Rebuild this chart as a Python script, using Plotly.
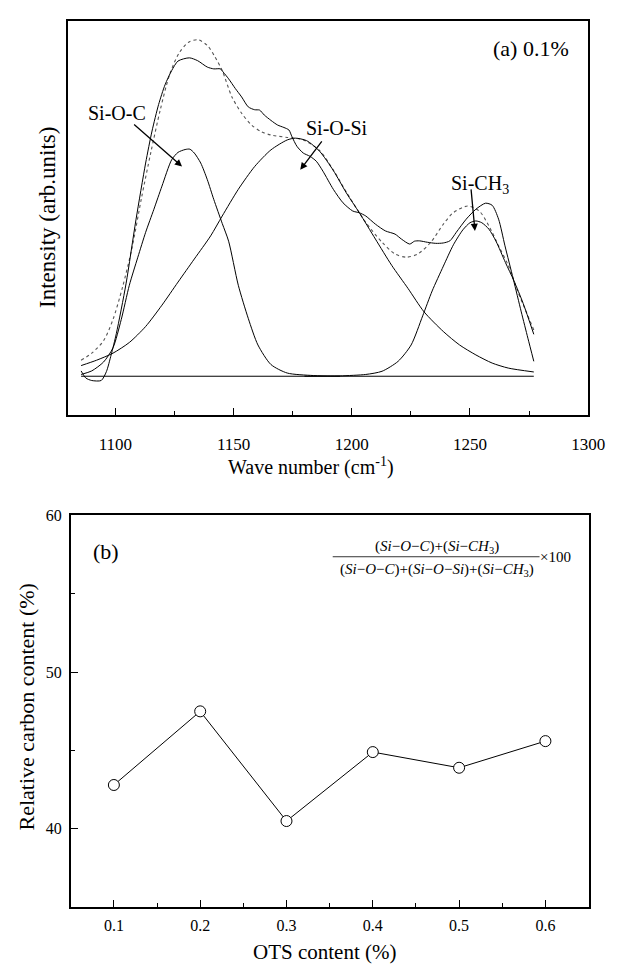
import plotly.graph_objects as go

# ---------------- data: panel (a) FTIR deconvolution ----------------
exp_wn = [1085.5, 1087.5, 1090, 1094, 1096.2, 1098.2, 1100.4, 1104.5, 1108.7, 1112.8,
          1115.5, 1118.3, 1121, 1123.8, 1126.5, 1131.3, 1134.8, 1138.9, 1141.6, 1144.4,
          1145.6, 1147.9, 1150.7, 1153.4, 1156.2, 1158.9, 1161, 1163, 1165.8, 1168.6,
          1171.3, 1173.4, 1174.7, 1176.8, 1179.5, 1182.3, 1185, 1187.8, 1192.2, 1196.3,
          1200.4, 1203.2, 1205.9, 1210, 1214.2, 1218.3, 1221, 1224.5, 1226.5, 1228.6,
          1232, 1235.5, 1238.7, 1241.5, 1244.2, 1248.4, 1252.5, 1256.6, 1259.4, 1262.1,
          1264.8, 1268.3, 1271.7, 1274.5, 1277]
exp_int = [0.015, -0.005, -0.012, -0.012, 0.013, 0.06, 0.12, 0.26, 0.44, 0.6,
           0.69, 0.765, 0.82, 0.86, 0.887, 0.896, 0.888, 0.87, 0.865, 0.865,
           0.856, 0.837, 0.81, 0.786, 0.758, 0.75, 0.749, 0.735, 0.72, 0.707,
           0.7, 0.693, 0.674, 0.647, 0.628, 0.619, 0.605, 0.577, 0.526, 0.488,
           0.465, 0.46, 0.451, 0.428, 0.409, 0.4, 0.386, 0.372, 0.38, 0.381,
           0.377, 0.374, 0.375, 0.381, 0.405, 0.442, 0.47, 0.487, 0.481, 0.442,
           0.367, 0.274, 0.181, 0.107, 0.042]

fit_wn = [1085.5, 1090, 1095, 1099, 1103, 1107, 1111, 1115, 1119, 1123,
          1127, 1131, 1135, 1139, 1142, 1145.2, 1149.3, 1153.4, 1157.6, 1161.7,
          1165.8, 1172.7, 1179.5, 1186.4, 1192.2, 1198, 1203.2, 1205.9, 1212.8, 1218.3,
          1223.1, 1227.9, 1233.4, 1238.75, 1242.9, 1249, 1253.9, 1258, 1262.1, 1266.2,
          1270.3, 1273.8, 1277]
fit_int = [0.045, 0.065, 0.1, 0.16, 0.25, 0.36, 0.5, 0.63, 0.75, 0.85,
           0.91, 0.94, 0.947, 0.93, 0.9, 0.86, 0.786, 0.74, 0.707, 0.688,
           0.679, 0.672, 0.665, 0.635, 0.58, 0.515, 0.46, 0.433, 0.377, 0.344,
           0.335, 0.344, 0.377, 0.428, 0.46, 0.479, 0.465, 0.423, 0.367, 0.312,
           0.237, 0.181, 0.13]

sioc_wn = [1085.5, 1090, 1095, 1099, 1102.5, 1105.9, 1109.5, 1112.8, 1116.3, 1119.7,
           1123.8, 1126.5, 1129.5, 1131.5, 1133.4, 1136.1, 1138.9, 1141.6, 1145.2, 1147.9,
           1152, 1156.2, 1160.3, 1165.8, 1172.7, 1183.7, 1195]
sioc_int = [0.005, 0.015, 0.04, 0.08, 0.16, 0.256, 0.335, 0.405, 0.47, 0.535,
            0.609, 0.63, 0.638, 0.639, 0.628, 0.6, 0.553, 0.498, 0.43, 0.38,
            0.256, 0.163, 0.088, 0.033, 0.009, 0.002, 0.0]

siosi_wn = [1085.5, 1092, 1099, 1105.9, 1112.8, 1119.7, 1126.5, 1133.4, 1140.3, 1145.2,
            1152, 1158.9, 1165.8, 1172.7, 1176.1, 1180.9, 1186.4, 1192.2, 1197.7, 1203.2,
            1210, 1216.9, 1223.8, 1230.6, 1238.7, 1245.6, 1252.5, 1259.4, 1266.2, 1277]
siosi_int = [0.03, 0.045, 0.065, 0.095, 0.14, 0.2, 0.265, 0.33, 0.395, 0.451,
             0.526, 0.59, 0.637, 0.665, 0.67, 0.663, 0.633, 0.579, 0.516, 0.46,
             0.386, 0.312, 0.247, 0.181, 0.126, 0.088, 0.06, 0.037, 0.023, 0.012]

sich3_wn = [1180, 1195, 1205.9, 1212.8, 1219.6, 1225.1, 1230, 1234, 1238.75, 1243,
            1247, 1250, 1252.5, 1255, 1258, 1261, 1265, 1268.5, 1272.5, 1277]
sich3_int = [0.0, 0.001, 0.005, 0.014, 0.042, 0.088, 0.17, 0.24, 0.31, 0.37,
             0.412, 0.432, 0.437, 0.432, 0.414, 0.38, 0.32, 0.27, 0.205, 0.118]

base_wn = [1085.5, 1277]
base_int = [0.0, 0.0]

# ---------------- data: panel (b) ----------------
ots = [0.1, 0.2, 0.3, 0.4, 0.5, 0.6]
carbon = [42.8, 47.5, 40.5, 44.9, 43.9, 45.6]

W, H = 626, 970
FONT = "Liberation Serif"


def P(px, py):
    return px / W, 1 - py / H


fig = go.Figure()
line_k = dict(color="black", width=1)

fig.add_trace(go.Scatter(x=fit_wn, y=fit_int, mode="lines", xaxis="x", yaxis="y",
                         line=dict(color="#555555", width=1.1, dash="dot", shape="spline", smoothing=0.8)))
for xs, ys in [(exp_wn, exp_int), (sioc_wn, sioc_int), (siosi_wn, siosi_int), (sich3_wn, sich3_int)]:
    fig.add_trace(go.Scatter(x=xs, y=ys, mode="lines", xaxis="x", yaxis="y",
                             line=dict(color="black", width=1, shape="spline", smoothing=0.7)))
fig.add_trace(go.Scatter(x=base_wn, y=base_int, mode="lines", xaxis="x", yaxis="y", line=line_k))

fig.add_trace(go.Scatter(x=ots, y=carbon, mode="lines+markers", xaxis="x2", yaxis="y2",
                         line=dict(color="black", width=1),
                         marker=dict(symbol="circle", size=11, color="white",
                                     line=dict(color="black", width=1))))

axis_common = dict(showline=True, linecolor="black", linewidth=1.6, mirror=True,
                   showgrid=False, zeroline=False)
tickf = dict(family=FONT, size=17, color="black")

fig.update_layout(
    width=W, height=H, margin=dict(l=0, r=0, t=0, b=0),
    paper_bgcolor="white", plot_bgcolor="white", showlegend=False,
    font=dict(family=FONT, color="black"),
    xaxis=dict(domain=[70 / W, 604.6 / W], range=[1080, 1300], anchor="y",
               ticks="inside", ticklen=7, tickwidth=1.3, tickcolor="black",
               tick0=1100, dtick=50,
               minor=dict(ticks="inside", ticklen=3.5, tickwidth=1.3, tickcolor="black", tick0=1075, dtick=25),
               tickfont=tickf, ticklabelstandoff=13, **axis_common),
    yaxis=dict(domain=[1 - 410 / H, 1 - 13 / H], range=[-0.108, 1.0], anchor="x",
               ticks="", showticklabels=False, **axis_common),
    xaxis2=dict(domain=[72.7 / W, 605 / W], range=[0.05, 0.65], anchor="y2",
                ticks="inside", ticklen=7, tickwidth=1.3, tickcolor="black",
                tick0=0.1, dtick=0.1,
                minor=dict(ticks="inside", ticklen=4, tickwidth=1.3, tickcolor="black", tick0=0.05, dtick=0.05),
                tickfont=dict(family=FONT, size=16, color="black"), ticklabelstandoff=3, **axis_common),
    yaxis2=dict(domain=[1 - 906.7 / H, 1 - 511.7 / H], range=[35, 60], anchor="x2",
                ticks="inside", ticklen=7, tickwidth=1.3, tickcolor="black",
                tick0=0, dtick=10,
                minor=dict(ticks="inside", ticklen=4.5, tickwidth=1.3, tickcolor="black", tick0=0, dtick=5),
                tickfont=dict(family=FONT, size=16, color="black"), ticklabelstandoff=4, **axis_common),
)

ann = []


def text(s, px, py, size, angle=0):
    x, y = P(px, py)
    ann.append(dict(text=s, x=x, y=y, xref="paper", yref="paper", showarrow=False,
                    xanchor="center", yanchor="middle", textangle=angle,
                    font=dict(family=FONT, size=size, color="black")))


# axis titles
text("Wave number (cm<sup>-1</sup>)", 320, 462, 20)
text("Intensity (arb.units)", 49, 211, 23, angle=-90)
text("OTS content (%)", 334, 952, 21)
text("Relative carbon content (%)", 27, 705, 22, angle=-90)

# panel labels
text("(a) 0.1%", 545.6, 41, 22)
text("(b)", 109, 548, 22)
text("Si-O-C", 120.6, 106, 20)
text("Si-O-Si", 346, 121, 20)
text("Si-CH<sub>3</sub>", 493, 178, 20)

# formula
num = "(<i>Si</i>\u2212<i>O</i>\u2212<i>C</i>)+(<i>Si</i>\u2212<i>CH</i><sub>3</sub>)"
den = ("(<i>Si</i>\u2212<i>O</i>\u2212<i>C</i>)+(<i>Si</i>\u2212<i>O</i>\u2212<i>Si</i>)"
       "+(<i>Si</i>\u2212<i>CH</i><sub>3</sub>)")
text(num, 449, 543, 15)
text(den, 449, 567, 15)
text("\u00d7100", 571, 554, 15)

# arrows (tip <- tail, in data coords of panel a)
for tip, tail in [((1128.2, 0.59), (1107.3, 0.712)),
                  ((1178.2, 0.581), (1187.8, 0.665)),
                  ((1252.1, 0.409), (1250.4, 0.53))]:
    ann.append(dict(x=tip[0], y=tip[1], ax=tail[0], ay=tail[1], xref="x", yref="y",
                    axref="x", ayref="y", showarrow=True, arrowhead=2, arrowsize=1.1,
                    arrowwidth=1.3, arrowcolor="black", text=""))

fig.update_layout(annotations=ann)

x0, y0 = P(342, 553.3)
x1, _ = P(554.6, 553.3)
fig.add_shape(type="line", xref="paper", yref="paper", x0=x0, x1=x1, y0=y0, y1=y0,
              line=dict(color="black", width=0.8))

fig.write_html("out.html", config={"displayModeBar": False})

# remove the browser's default page margin so the figure sits at the window origin
with open("out.html", "r", encoding="utf-8") as f:
    html = f.read()
html = html.replace("<head>", "<head><style>html,body{margin:0;padding:0;overflow:hidden;}</style>", 1)
with open("out.html", "w", encoding="utf-8") as f:
    f.write(html)
